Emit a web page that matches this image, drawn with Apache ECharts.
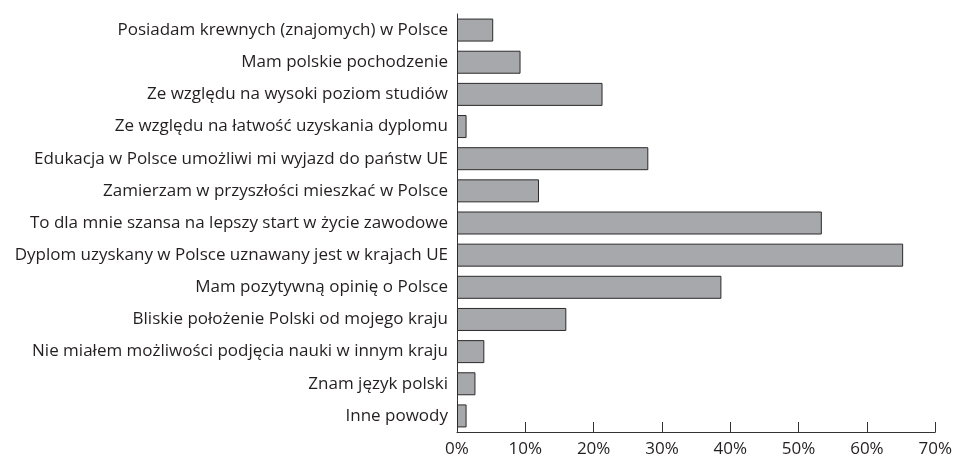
<!DOCTYPE html>
<html><head><meta charset="utf-8">
<script src="https://cdn.jsdelivr.net/npm/echarts@6/dist/echarts.min.js"></script>
<style>html,body{margin:0;padding:0;background:#fff}#c{width:955px;height:458px}</style>
</head><body><div id="c"></div>
<script>
const categories = [
  "Posiadam krewnych (znajomych) w Polsce",
  "Mam polskie pochodzenie",
  "Ze względu na wysoki poziom studiów",
  "Ze względu na łatwość uzyskania dyplomu",
  "Edukacja w Polsce umożliwi mi wyjazd do państw UE",
  "Zamierzam w przyszłości mieszkać w Polsce",
  "To dla mnie szansa na lepszy start w życie zawodowe",
  "Dyplom uzyskany w Polsce uznawany jest w krajach UE",
  "Mam pozytywną opinię o Polsce",
  "Bliskie położenie Polski od mojego kraju",
  "Nie miałem możliwości podjęcia nauki w innym kraju",
  "Znam język polski",
  "Inne powody"
];
const values = [5.3, 9.3, 21.3, 1.4, 28.0, 12.0, 53.4, 65.3, 38.7, 16.0, 4.0, 2.7, 1.4];
const xTicks = [0, 10, 20, 30, 40, 50, 60, 70];

const chart = echarts.init(document.getElementById('c'));
chart.setOption({
  animation: false,
  grid: {left: 457, right: 18, top: 14, bottom: 25},
  xAxis: {
    type: 'value', min: xTicks[0], max: xTicks[xTicks.length-1], interval: 10,
    axisLine: {show: true, lineStyle: {color: '#333', width: 1}},
    axisTick: {show: true, inside: true, length: 10, lineStyle: {color: '#333'}},
    splitLine: {show: false},
    axisLabel: {formatter: '{value}%', color: '#231f20', fontSize: 17, fontFamily: 'Open Sans', margin: 9}
  },
  yAxis: {
    type: 'category', data: categories, inverse: true,
    axisLine: {show: true, lineStyle: {color: '#333', width: 1}},
    axisTick: {show: false},
    axisLabel: {color: '#231f20', fontSize: 17, fontFamily: 'Open Sans', margin: 9}
  },
  series: [{
    type: 'bar', data: values, barWidth: 23,
    itemStyle: {color: '#a7a8ab', borderColor: '#2b2b2b', borderWidth: 1}
  }]
});
</script></body></html>
